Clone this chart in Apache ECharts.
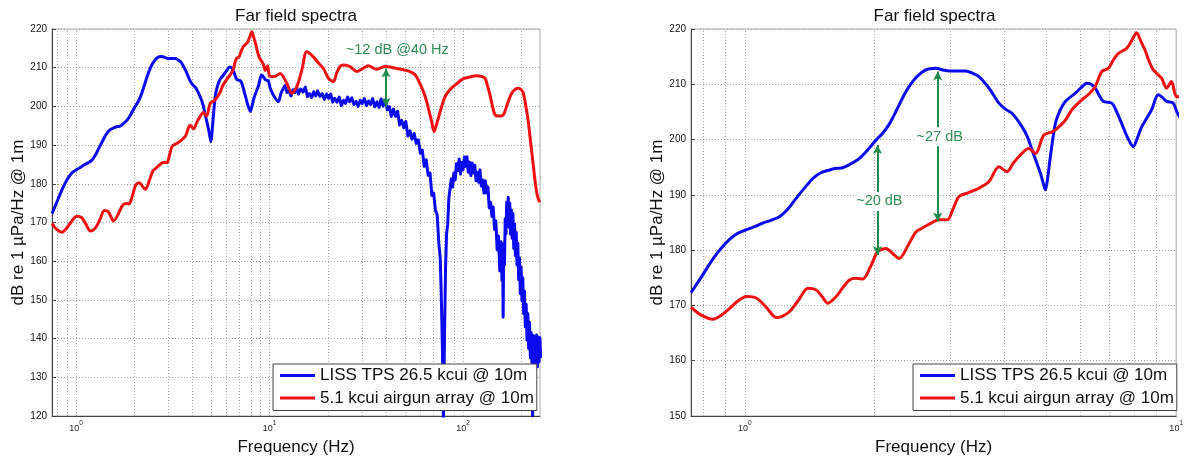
<!DOCTYPE html>
<html><head><meta charset="utf-8">
<script src="https://cdn.jsdelivr.net/npm/echarts@6/dist/echarts.min.js"></script>
<style>html,body{margin:0;padding:0;background:#fff}#c{width:1186px;height:462px}</style>
</head><body><div id="c"></div>
<script>
// ---------------- data ----------------
const chartTitle = 'Far field spectra';
const xName = 'Frequency (Hz)';
const yName = 'dB re 1 µPa/Hz @ 1m';
const seriesNames = ['LISS TPS 26.5 kcui @ 10m', '5.1 kcui airgun array @ 10m'];
const seriesColors = ['#0a0aef', '#ee1111'];

const leftFreqRange = [0.75, 250];
const rightFreqRange = [0.75, 10];
const leftDbRange = [120, 220];
const rightDbRange = [150, 220];
const dbStep = 10;
const gridFreqs = [0.8, 0.9, 1, 2, 3, 4, 5, 6, 7, 8, 9, 10, 20, 30, 40, 50, 60, 70, 80, 90, 100, 200];
const noisyFromHz = 11.79; // above this frequency the LISS spectrum is a raw (noisy) trace

// [frequency Hz, dB]
const blueSpectrum = [
  [0.75,172.3],[0.78,174.3],[0.81,176.3],[0.845,178.5],[0.88,180.3],[0.92,181.9],[0.96,183.0],[1.0,183.6],
  [1.05,184.2],[1.10,184.9],[1.15,185.4],[1.205,186.1],[1.26,187.5],[1.316,189.4],[1.38,191.4],[1.438,193.0],
  [1.50,194.0],[1.572,194.5],[1.63,194.8],[1.687,194.9],[1.76,195.6],[1.843,196.6],[1.93,198.2],[2.014,199.9],
  [2.09,201.2],[2.162,202.8],[2.25,205.4],[2.36,208.6],[2.48,211.0],[2.628,212.6],[2.772,212.9],[2.88,212.6],
  [2.975,212.4],[3.10,212.4],[3.251,212.4],[3.37,212.0],[3.489,211.4],[3.681,209.3],[3.881,206.6],[4.02,205.5],
  [4.167,204.7],[4.393,202.3],[4.52,200.5],[4.633,198.1],[4.75,195.8],[4.844,193.9],[4.93,191.8],[4.975,190.9],
  [5.03,192.8],[5.108,196.9],[5.246,202.9],[5.38,205.3],[5.533,206.9],[5.835,208.4],[6.02,209.4],[6.207,210.2],
  [6.35,210.0],[6.491,209.3],[6.64,207.9],[6.783,206.9],[7.089,206.6],[7.28,205.0],[7.475,202.9],[7.72,200.3],
  [7.955,198.7],[8.12,200.2],[8.318,202.3],[8.77,205.4],[9.087,208.1],[9.30,207.6],[9.50,206.9],[9.84,206.6],
  [10.07,204.75],[10.46,202.9],[11.1,201.2],[11.45,203.4],[11.79,204.7],
  [12.0,205.4],[12.3,203.6],[12.6,204.2],[12.9,202.7],[13.2,204.3],[13.5,203.6],[13.8,205.0],[14.1,203.2],
  [14.5,204.5],[14.9,203.7],[15.3,205.0],[15.7,202.5],[16.1,203.3],[16.5,202.3],[16.9,203.8],[17.3,202.7],
  [17.7,204.0],[18.2,202.6],[18.7,203.3],[19.2,201.8],[19.7,203.2],[20.2,202.1],[20.7,203.2],[21.2,201.1],
  [21.7,202.1],[22.3,201.1],[22.9,202.4],[23.5,200.2],[24.1,201.6],[24.7,200.8],[25.3,202.4],[25.9,201.2],
  [26.6,202.2],[27.3,200.5],[28.0,201.3],[28.7,200.0],[29.4,201.6],[30.1,200.7],[30.9,202.0],[31.7,200.2],
  [32.5,201.4],[33.3,200.5],[34.1,202.0],[35.0,199.9],[35.9,201.2],[36.8,199.75],[37.7,201.9],[38.6,200.05],
  [39.6,201.65],[40.6,199.1],[41.6,199.95],[42.6,197.4],[43.7,199.35],[44.8,197.4],[45.9,198.75],[47.0,195.2],
  [48.2,196.4],[49.4,194.45],[50.6,196.1],[51.9,192.35],[53.2,193.7],[54.5,191.55],[55.9,193.0],[57.3,190.45],
  [58.7,191.35],[60.2,187.9],[61.6,188.7],[63.0,184.5],[64.5,186.2],[66.0,182.2],[67.5,182.8],[69.0,177.0],
  [70.5,177.6],[72.0,173.2],[73.5,172.0],[75.0,164.5],[76.2,161.0],[77.2,151.0],[78.2,138.0],[79.2,118.0],
  [80.2,140.0],[81.2,158.0],[82.2,167.0],[83.3,169.5],[84.5,176.4],[85.7,176.3],[87.0,181.3],[88.3,179.2],
  [89.7,182.8],[91.1,181.0],[92.5,185.2],[94.0,183.4],[95.5,186.4],[97.0,182.5],[98.5,185.5],[100.0,183.6],
  [101.6,186.9],[103.2,184.5],[104.8,187.0],[106.4,183.0],[108.1,185.6],[109.8,182.1],[111.5,185.4],[113.2,182.8],
  [115.0,184.8],[116.8,180.8],[118.6,183.0],[120.5,180.4],[122.4,183.6],[124.3,179.4],[126.3,181.0],[128.3,177.6],
  [130.3,180.8],[132.4,177.6],[134.5,179.2],[136.6,173.8],[138.8,175.2],[141.0,171.6],[143.2,174.0],[145.5,168.2],
  [147.8,170.4],[150.1,162.9],[152.5,166.5],[154.9,157.5],[157.3,165.0],[158.9,155.0],[160.2,164.5],[161.2,145.5],
  [162.4,164.0],[163.8,159.0],[165.2,171.0],[166.7,167.0],[168.2,175.3],[169.7,169.6],[171.3,176.5],[172.9,168.8],
  [174.5,175.0],[176.1,167.0],[177.8,173.3],[179.5,165.9],[181.2,172.3],[182.9,163.3],[184.7,169.7],[186.5,161.4],
  [188.3,167.5],[190.1,159.0],[192.0,164.7],[193.9,155.2],[195.8,160.9],[197.7,151.6],[199.7,158.5],[201.7,149.8],
  [203.7,155.7],[205.7,146.4],[207.8,152.3],[209.9,143.0],[212.0,148.9],[214.1,139.6],[216.3,146.5],[218.5,137.4],
  [220.7,144.2],[222.9,135.0],[225.1,141.6],[227.3,133.0],[229.0,120.0],[230.6,140.8],[232.9,132.3],[235.2,140.5],
  [237.6,133.1],[240.0,140.9],[242.4,132.7],[244.8,140.4],[247.3,134.0],[249.8,140.2],[252.0,135.0]
];

const redSpectrum = [
  [0.75,169.7],[0.79,168.3],[0.845,167.5],[0.88,168.2],[0.923,169.5],[0.96,170.7],[1.009,171.6],[1.064,171.3],
  [1.12,169.7],[1.184,167.8],[1.22,168.0],[1.27,168.9],[1.33,170.9],[1.4,173.1],[1.464,172.8],[1.51,171.6],
  [1.557,170.4],[1.628,171.6],[1.69,173.3],[1.748,174.6],[1.81,174.9],[1.876,174.8],[1.95,176.8],[2.032,179.7],
  [2.125,180.3],[2.2,179.4],[2.28,178.5],[2.38,180.6],[2.492,183.3],[2.58,184.0],[2.675,184.7],[2.82,185.5],
  [2.948,185.5],[3.04,187.5],[3.137,189.7],[3.3,190.4],[3.489,191.2],[3.681,192.4],[3.881,195.1],[4.056,194.2],
  [4.18,195.6],[4.316,196.9],[4.55,198.4],[4.717,197.5],[4.93,200.8],[5.152,201.4],[5.291,202.0],[5.533,203.5],
  [5.73,205.4],[6.043,207.2],[6.27,208.2],[6.491,209.6],[6.72,212.3],[6.966,212.9],[7.15,214.4],[7.345,215.6],
  [7.676,216.5],[7.9,218.0],[8.094,219.3],[8.28,217.8],[8.466,216.2],[8.65,214.2],[8.85,212.6],[9.25,211.1],
  [9.50,209.3],[9.75,210.5],[10.02,207.8],[10.6,207.7],[11.33,208.5],[12.27,206.0],[13.02,203.4],[13.82,205.1],
  [14.7,209.5],[15.56,214.1],[16.84,212.8],[17.9,211.2],[18.97,209.8],[20.2,207.2],[21.37,206.4],[22.2,208.6],
  [23.14,210.3],[24.05,210.7],[26.06,210.3],[28.23,209.0],[30.3,209.8],[32.4,210.5],[35.8,209.6],[39.5,210.3],
  [45.4,209.8],[53.2,209.0],[56.5,208.2],[58.7,206.8],[62.0,204.2],[64.9,201.2],[66.9,198.6],[68.9,196.0],
  [70.8,193.5],[72.6,195.0],[74.5,196.9],[77.5,199.9],[80.7,202.5],[85.5,204.3],[90.9,205.5],[100,207.1],
  [108,207.6],[117.7,207.9],[124,207.8],[129.9,207.3],[134,205.2],[137.9,202.9],[142,200.0],[146.4,197.8],
  [153,197.5],[161.5,197.8],[170,200.8],[178.5,203.4],[186,204.4],[193.2,204.7],[200,204.3],[205,203.4],
  [211,200.2],[217.5,196.0],[224,190.4],[230.7,184.9],[236,180.5],[241,177.5],[246,175.8],[250,175.3]
];

// annotations: panel, arrow frequency, arrow top/bottom dB, label, label position
const annotations = [
  { panel: 0, f: 40,   top: 209.8, bottom: 199.9, text: '~12 dB @40 Hz', textF: 45.7, textDb: 214.6 },
  { panel: 1, f: 2.03, top: 199.0, bottom: 179.1, text: '~20 dB',        textF: 2.05, textDb: 188.8 },
  { panel: 1, f: 2.8,  top: 212.3, bottom: 185.2, text: '~27 dB',        textF: 2.83, textDb: 200.5 }
];

// ---------------- chart ----------------
const FONT = '"Liberation Sans", Arial, Helvetica, sans-serif';
const GREEN = '#1f8a4a';
const panels = [
  { grid: { left: 52, top: 29, width: 488, height: 387 }, fr: leftFreqRange, db: leftDbRange, legendLeft: 273, titleX: 291 },
  { grid: { left: 691, top: 29, width: 487, height: 387 }, fr: rightFreqRange, db: rightDbRange, legendLeft: 913, titleX: 929.5 }
];

function powLabel(v) {
  const e = Math.log10(v), r = Math.round(e);
  return Math.abs(e - r) < 1e-6 ? '{b|10}{s|' + r + '}' : '';
}

const option = {
  animation: false,
  backgroundColor: '#fff',
  textStyle: { fontFamily: FONT },
  title: panels.map(p => ({
    text: chartTitle, left: p.titleX, top: 3, textAlign: 'center',
    textStyle: { fontSize: 17, fontWeight: 'normal', color: '#111', fontFamily: FONT }
  })),
  grid: panels.map(p => Object.assign({ show: true, borderColor: '#a8a8a8', borderWidth: 1, backgroundColor: 'transparent' }, p.grid)),
  xAxis: panels.map((p, i) => ({
    type: 'log', logBase: 10, gridIndex: i, min: p.fr[0], max: p.fr[1],
    axisLine: { show: true, lineStyle: { color: '#444', width: 1 } },
    axisTick: { show: false },
    splitLine: { show: false },
    axisLabel: {
      formatter: powLabel, margin: 7, showMinLabel: true, showMaxLabel: true,
      rich: {
        b: { fontSize: 9, color: '#222', lineHeight: 10, verticalAlign: 'bottom', fontFamily: FONT },
        s: { fontSize: 6.5, color: '#222', lineHeight: 7, verticalAlign: 'bottom', padding: [0, 0, 6, 0], fontFamily: FONT }
      }
    },
    name: xName, nameLocation: 'middle', nameGap: 23,
    nameTextStyle: { fontSize: 17, color: '#111', fontFamily: FONT }
  })),
  yAxis: panels.map((p, i) => ({
    type: 'value', gridIndex: i, min: p.db[0], max: p.db[1], interval: dbStep,
    axisLine: { show: true, lineStyle: { color: '#444', width: 1 } },
    axisTick: { show: true, inside: true, length: 4, lineStyle: { color: '#444' } },
    splitLine: { show: true, lineStyle: { type: [1, 2], color: '#a8a8a8', width: 1 } },
    axisLabel: { fontSize: 10, color: '#111', margin: 5, fontFamily: FONT },
    name: yName, nameLocation: 'middle', nameGap: 20,
    nameTextStyle: { fontSize: 17, color: '#111', fontFamily: FONT }
  })),
  legend: panels.map(p => ({
    data: seriesNames, orient: 'vertical', left: p.legendLeft, top: 364,
    itemWidth: 35, itemHeight: 3, icon: 'rect', itemGap: 5.5,
    padding: [3, 3, 4, 7], borderColor: '#444', borderWidth: 1, borderRadius: 0,
    backgroundColor: '#fff', selectedMode: false, z: 10,
    textStyle: { fontSize: 17, color: '#111', fontFamily: FONT }
  })),
  series: []
};

const blueSmooth = blueSpectrum.filter(d => d[0] <= noisyFromHz);
const blueRaw = blueSpectrum.filter(d => d[0] >= noisyFromHz);

panels.forEach((p, i) => {
  // grid lines at each log sub-decade
  option.series.push({
    type: 'line', xAxisIndex: i, yAxisIndex: i, data: [], silent: true, z: 1,
    markLine: {
      silent: true, symbol: ['none', 'none'], z: 1, animation: false,
      label: { show: false },
      lineStyle: { type: [1, 2], color: '#a8a8a8', width: 1 },
      data: gridFreqs.filter(f => f > p.fr[0] && f < p.fr[1]).map(f => ({ xAxis: f }))
    }
  });
  const parts = [
    { name: seriesNames[0], color: seriesColors[0], data: blueSmooth, smooth: 0.3 },
    { name: seriesNames[0], color: seriesColors[0], data: blueRaw, smooth: false },
    { name: seriesNames[1], color: seriesColors[1], data: redSpectrum, smooth: 0.3 }
  ];
  parts.forEach(s => {
    option.series.push({
      type: 'line', name: s.name, xAxisIndex: i, yAxisIndex: i,
      data: s.data, showSymbol: false, symbol: 'none', smooth: s.smooth, clip: true, z: 3,
      lineStyle: { width: 3, color: s.color, join: 'round' }, itemStyle: { color: s.color }
    });
  });
  const ann = annotations.filter(a => a.panel === i);
  option.series.push({
    type: 'line', xAxisIndex: i, yAxisIndex: i, data: [], silent: true, z: 6,
    markLine: {
      silent: true, z: 6, animation: false, symbol: ['arrow', 'arrow'], symbolSize: [7, 9],
      label: { show: false },
      lineStyle: { type: 'solid', color: GREEN, width: 2 },
      data: ann.map(a => [{ coord: [a.f, a.top] }, { coord: [a.f, a.bottom] }])
    },
    markPoint: {
      silent: true, z: 7, animation: false, symbol: 'circle', symbolSize: 0,
      data: ann.map(a => ({
        coord: [a.textF, a.textDb],
        label: { show: true, position: 'inside', formatter: a.text, color: '#2f8f55', fontSize: 14.5,
                 backgroundColor: '#fff', padding: [2, 1], fontFamily: FONT }
      }))
    }
  });
});

const chart = echarts.init(document.getElementById('c'), null, { renderer: 'canvas' });
chart.setOption(option);
</script>
</body></html>
